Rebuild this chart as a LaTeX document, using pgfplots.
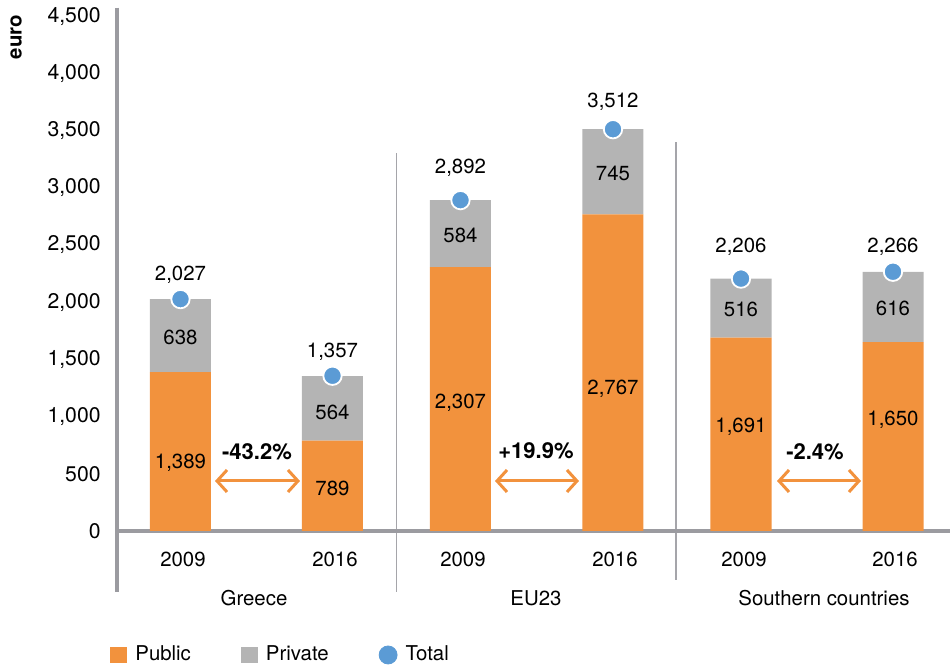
\documentclass[border=0pt]{standalone}
\usepackage{fontspec}
\setmainfont{TeX Gyre Heros}
\usepackage{pgfplots}
\pgfplotsset{compat=1.18}
\usetikzlibrary{arrows.meta}

\definecolor{pub}{RGB}{242,146,61}
\definecolor{priv}{RGB}{180,180,180}
\definecolor{tot}{RGB}{91,155,213}
\definecolor{axgray}{RGB}{155,155,160}
\definecolor{sepgray}{RGB}{165,165,170}

\begin{document}
\fontsize{10.2}{12.2}\selectfont
\begin{tikzpicture}
\useasboundingbox (0,0) rectangle (475pt,333.5pt);
\pgfplotsset{base/.style={
  at={(58.5pt,0pt)}, anchor=south west, scale only axis,
  width=416.5pt, height=333.5pt,
  xmin=117, xmax=950, ymin=-1188.8, ymax=4641.6, clip=false}}

\begin{axis}[base, ybar stacked, bar width=61,
  axis x line=none, axis y line=left, y axis line style={draw=none},
  ytick={0,500,...,4500}, major tick length=0pt,
  yticklabel style={anchor=east, inner sep=0pt, xshift=-8pt,
    font=\fontsize{10.6}{12.7}\selectfont},
  /pgf/number format/.cd, 1000 sep={,}, assume math mode=true,
  /pgfplots/.cd,
  legend style={at={(-0.0084,0.018)}, anchor=west, draw=none, fill=none,
    inner sep=0pt, legend columns=3,
    /tikz/every odd column/.append style={column sep=2pt},
    /tikz/every even column/.append style={column sep=23pt}},
]
% public spending
\addplot[fill=pub, draw=none,
  legend image code/.code={\fill[pub] (0pt,-4pt) rectangle (8.5pt,4pt);}]
  coordinates {(180.5,1389) (332.5,789) (460.5,2307) (613,2767) (741,1691) (893,1650)};
% private spending
\addplot[fill=priv, draw=none,
  legend image code/.code={\fill[priv] (0pt,-4pt) rectangle (8.5pt,4pt);}]
  coordinates {(180.5,638) (332.5,564) (460.5,584) (613,745) (741,516) (893,616)};
\addlegendimage{legend image code/.code={\fill[tot] (4.5pt,0pt) circle (4.5pt);}}
\legend{Public, Private, Total}

% spine, base line, separators
\draw[axgray, line width=2pt] (axis cs:117,4574) -- (axis cs:117,-533);
\draw[axgray, line width=2pt] (axis cs:117,0) -- (axis cs:950,0);
\draw[sepgray, line width=0.8pt] (axis cs:396.5,3304) -- (axis cs:396.5,-533);
\draw[sepgray, line width=0.8pt] (axis cs:676,3400) -- (axis cs:676,-428);
\end{axis}

\begin{axis}[base, hide axis]
% total
\addplot[only marks, mark=*, mark size=4.6pt,
  mark options={fill=tot, draw=white, line width=0.9pt}]
  coordinates {(180.5,2027) (332.5,1357) (460.5,2892) (613,3512) (741,2206) (893,2266)};

% value labels
\node at (axis cs:180.5,594) {1,389};
\node at (axis cs:332.5,376) {789};
\node at (axis cs:460.5,1119) {2,307};
\node at (axis cs:613,1241) {2,767};
\node at (axis cs:741,909) {1,691};
\node at (axis cs:893,970) {1,650};
\node at (axis cs:180.5,1696) {638};
\node at (axis cs:332.5,1040) {564};
\node at (axis cs:460.5,2587) {584};
\node at (axis cs:613,3129) {745};
\node at (axis cs:741,1940) {516};
\node at (axis cs:893,1949) {616};
\node at (axis cs:180.5,2238) {2,027};
\node at (axis cs:332.5,1565) {1,357};
\node at (axis cs:460.5,3173) {2,892};
\node at (axis cs:613,3750) {3,512};
\node at (axis cs:741,2483) {2,206};
\node at (axis cs:893,2483) {2,266};

% change arrows
\draw[pub, line width=1.5pt, {Straight Barb[length=5pt,width=11pt]}-{Straight Barb[length=5pt,width=11pt]}]
  (axis cs:215,437) -- (axis cs:300,437);
\draw[pub, line width=1.5pt, {Straight Barb[length=5pt,width=11pt]}-{Straight Barb[length=5pt,width=11pt]}]
  (axis cs:495,437) -- (axis cs:579,437);
\draw[pub, line width=1.5pt, {Straight Barb[length=5pt,width=11pt]}-{Straight Barb[length=5pt,width=11pt]}]
  (axis cs:777,437) -- (axis cs:861,437);
\node[font=\fontsize{11}{13}\bfseries] at (axis cs:257,690) {-43.2\%};
\node[font=\fontsize{11}{13}\bfseries] at (axis cs:536,699) {+19.9\%};
\node[font=\fontsize{11}{13}\bfseries] at (axis cs:815,690) {-2.4\%};

% category labels
\node at (axis cs:183,-245) {2009};
\node at (axis cs:335,-245) {2016};
\node at (axis cs:463,-245) {2009};
\node at (axis cs:615,-245) {2016};
\node at (axis cs:744,-245) {2009};
\node at (axis cs:895,-245) {2016};
\node at (axis cs:254,-586) {Greece};
\node at (axis cs:536,-586) {EU23};
\node at (axis cs:824,-586) {Southern countries};

\node[font=\bfseries, rotate=90] at (axis cs:16,4318) {euro};
\end{axis}
\end{tikzpicture}
\end{document}
